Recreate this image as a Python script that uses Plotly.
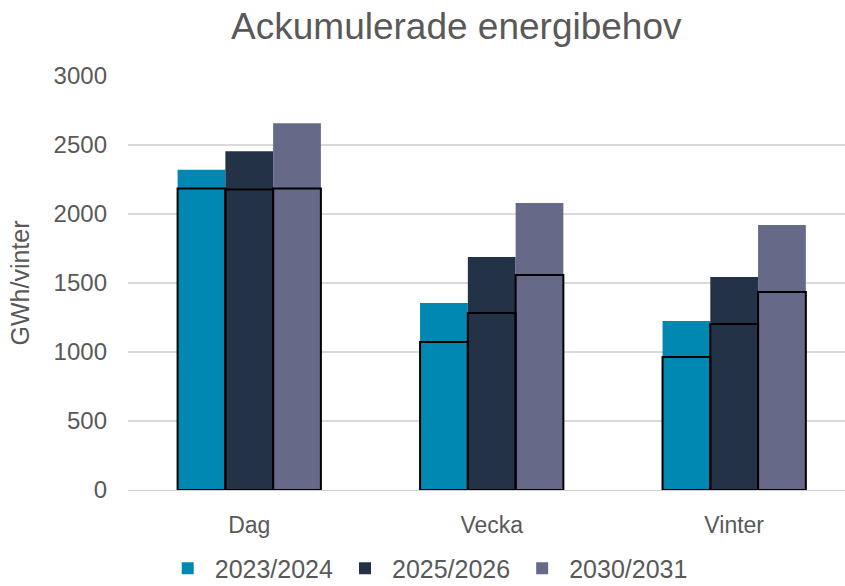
import plotly.graph_objects as go

categories = ["Dag", "Vecka", "Vinter"]
years = ["2023/2024", "2025/2026", "2030/2031"]
totals = {
    "2023/2024": [2320, 1355, 1225],
    "2025/2026": [2455, 1688, 1543],
    "2030/2031": [2658, 2080, 1920],
}
outlined = {
    "2023/2024": [2185, 1072, 964],
    "2025/2026": [2178, 1283, 1203],
    "2030/2031": [2185, 1558, 1435],
}
colors = {"2023/2024": "#0088B2", "2025/2026": "#243247", "2030/2031": "#666A88"}

bar_w = 0.197
offsets = [-1.5 * bar_w, -0.5 * bar_w, 0.5 * bar_w]

fig = go.Figure()
for i, y in enumerate(years):
    fig.add_trace(go.Bar(
        x=categories, y=totals[y], name=y, width=bar_w, offset=offsets[i],
        marker=dict(color=colors[y], line=dict(width=0)),
        hoverinfo="y",
    ))
for i, y in enumerate(years):
    fig.add_trace(go.Bar(
        x=categories, y=outlined[y], name=y + " (bas)", width=bar_w, offset=offsets[i],
        marker=dict(color="rgba(0,0,0,0)", line=dict(color="#000000", width=2)),
        showlegend=False, hoverinfo="y",
    ))

fig.update_layout(
    barmode="overlay",
    width=845, height=586,
    margin=dict(l=128, r=0, t=76, b=96),
    paper_bgcolor="white", plot_bgcolor="white",
    font=dict(family="Liberation Sans, Arial, sans-serif", color="#595959"),
    title=dict(text="Ackumulerade energibehov", x=0.54, xanchor="center",
               y=0.955, yanchor="middle", font=dict(size=37, color="#595959")),
    xaxis=dict(showgrid=False, showline=True, linecolor="#D0D0D0", linewidth=1,
               range=[-0.5, 2.457],
               tickfont=dict(size=23, color="#595959"), ticks="", ticklabelstandoff=14),
    yaxis=dict(range=[0, 3000], dtick=500, showgrid=True, gridcolor="#D9D9D9",
               gridwidth=2, zeroline=False, showline=False,
               tickfont=dict(size=24, color="#595959"), ticksuffix="   ",
               title=dict(text="GWh/vinter", font=dict(size=25, color="#595959"), standoff=16)),
    legend=dict(orientation="h", x=0.505, xanchor="center", xref="container",
                y=0.03, yanchor="middle", yref="container",
                font=dict(size=25, color="#595959"), itemwidth=44, traceorder="normal"),
    showlegend=True,
)

fig.write_html("out.html", config={"displayModeBar": False},
               post_script="document.body.style.margin='0';document.body.style.overflow='hidden';")
